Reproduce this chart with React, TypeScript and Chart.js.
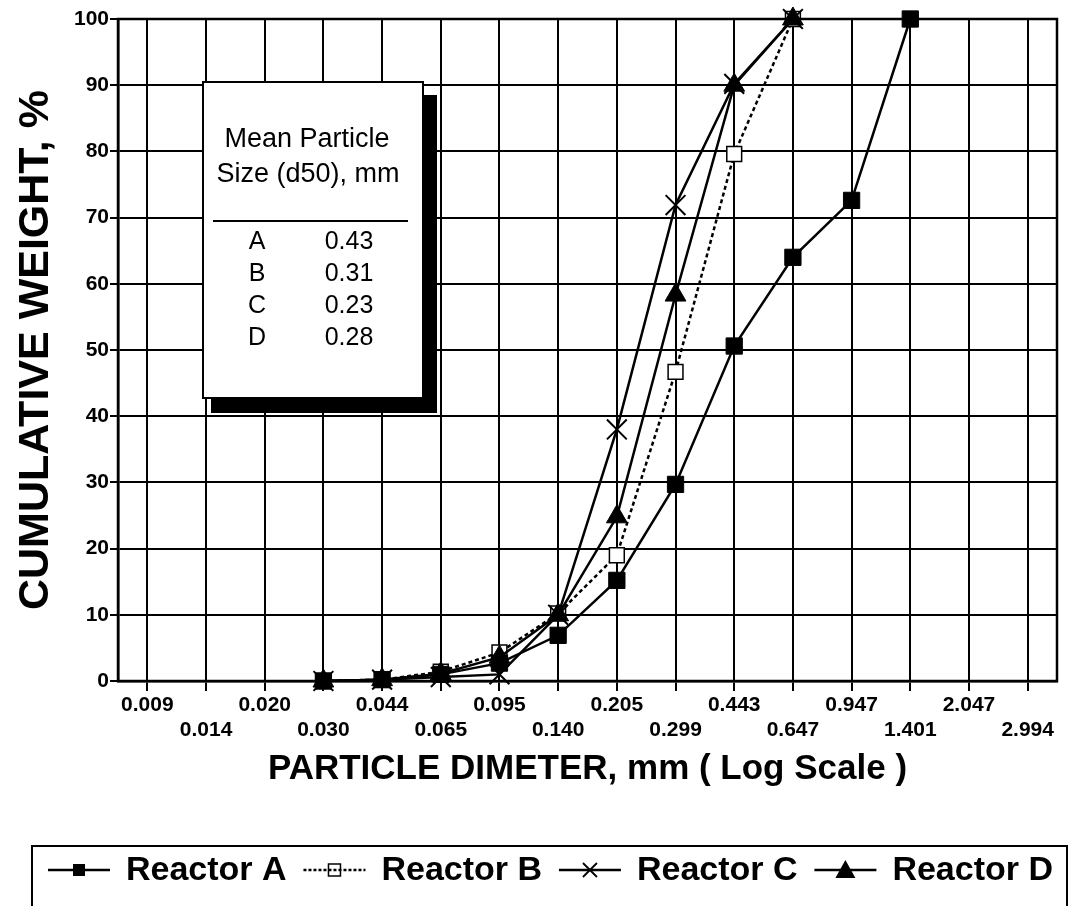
import React, { useEffect, useRef } from 'react';
import { Chart, registerables } from 'chart.js';

Chart.register(...registerables);

// ---- data ----
const sizeLabels = ['0.009', '0.014', '0.020', '0.030', '0.044', '0.065', '0.095', '0.140', '0.205', '0.299', '0.443', '0.647', '0.947', '1.401', '2.047', '2.994'];
const reactorA = [null, null, null, 0, 0.2, 1.0, 2.7, 6.9, 15.2, 29.7, 50.6, 64.0, 72.6, 100, null, null];
const reactorB = [null, null, null, 0, 0.2, 1.4, 4.3, 10.2, 19.0, 46.7, 79.6, 100, null, null, null, null];
const reactorC = [null, null, null, 0, 0.2, 0.6, 1.0, 10.0, 38.0, 71.9, 90.2, 100, null, null, null, null];
const reactorD = [null, null, null, 0, 0.2, 1.1, 3.6, 10.0, 24.8, 58.3, 90.0, 100, null, null, null, null];
const seriesNames = ['Reactor A', 'Reactor B', 'Reactor C', 'Reactor D'];
const d50Reactors = ['A', 'B', 'C', 'D'];
const d50Values = ['0.43', '0.31', '0.23', '0.28'];
const yTitle = 'CUMULATIVE WEIGHT, %';
const xTitle = 'PARTICLE DIMETER, mm ( Log Scale )';
const insetTitle = ['Mean Particle', 'Size (d50), mm'];

const FONT = "'Liberation Sans', Arial, Helvetica, sans-serif";

function drawMarker(ctx: CanvasRenderingContext2D, kind: number, x: number, y: number) {
  ctx.save();
  ctx.setLineDash([]);
  ctx.strokeStyle = '#000';
  ctx.fillStyle = '#000';
  if (kind === 0) {
    ctx.fillRect(x - 6, y - 6, 12, 12);
  } else if (kind === 1) {
    ctx.lineWidth = 1.5;
    ctx.strokeRect(x - 6, y - 6, 12, 12);
  } else if (kind === 2) {
    ctx.lineWidth = 1.8;
    ctx.beginPath();
    ctx.moveTo(x - 7, y - 7);
    ctx.lineTo(x + 7, y + 7);
    ctx.moveTo(x + 7, y - 7);
    ctx.lineTo(x - 7, y + 7);
    ctx.stroke();
  } else {
    ctx.beginPath();
    ctx.moveTo(x, y - 10);
    ctx.lineTo(x + 10, y + 8);
    ctx.lineTo(x - 10, y + 8);
    ctx.closePath();
    ctx.fill();
  }
  ctx.restore();
}

const decorPlugin = {
  id: 'decor',
  afterDatasetsDraw(chart: any) {
    const { ctx, chartArea: a } = chart;
    ctx.save();
    ctx.strokeStyle = '#000';
    ctx.lineWidth = 2.5;
    ctx.strokeRect(a.left, a.top, a.right - a.left, a.bottom - a.top);
    ctx.restore();
  },
  afterDraw(chart: any) {
    const { ctx } = chart;
    ctx.save();
    // inset box with shadow
    const bx = 203, by = 82, bw = 220, bh = 316;
    ctx.fillStyle = '#000';
    ctx.fillRect(bx + 8, by + 13, bw + 5, bh + 2);
    ctx.fillRect(bx + 8, by + bh, bw + 5, 15);
    ctx.fillRect(bx + bw, by + 13, 14, bh + 2);
    ctx.fillStyle = '#fff';
    ctx.fillRect(bx, by, bw, bh);
    ctx.strokeStyle = '#000';
    ctx.lineWidth = 2;
    ctx.strokeRect(bx, by, bw, bh);
    ctx.fillStyle = '#000';
    ctx.textAlign = 'center';
    ctx.textBaseline = 'middle';
    ctx.font = `27px ${FONT}`;
    ctx.fillText(insetTitle[0], 307, 140);
    ctx.fillText(insetTitle[1], 308, 175);
    ctx.lineWidth = 2;
    ctx.beginPath();
    ctx.moveTo(213, 221);
    ctx.lineTo(408, 221);
    ctx.stroke();
    ctx.font = `25px ${FONT}`;
    d50Reactors.forEach((r, i) => {
      const yy = 242 + i * 32;
      ctx.fillText(r, 257, yy);
      ctx.fillText(d50Values[i], 349, yy);
    });

    // legend box
    ctx.lineWidth = 2;
    ctx.beginPath();
    ctx.moveTo(32, 906);
    ctx.lineTo(32, 846);
    ctx.lineTo(1067, 846);
    ctx.lineTo(1067, 906);
    ctx.stroke();
    ctx.font = `bold 34px ${FONT}`;
    ctx.textAlign = 'left';
    const symW = 62, gap1 = 16;
    const widths = seriesNames.map((n) => ctx.measureText(n).width);
    const startX = 48, endX = 1053;
    const total = widths.reduce((s, w) => s + w + symW + gap1, 0);
    const gap2 = (endX - startX - total) / 3;
    let x = startX;
    const ly = 870;
    seriesNames.forEach((n, i) => {
      ctx.save();
      ctx.lineWidth = 2.5;
      if (i === 1) ctx.setLineDash([3, 2]);
      ctx.beginPath();
      ctx.moveTo(x, ly);
      ctx.lineTo(x + symW, ly);
      ctx.stroke();
      ctx.restore();
      drawMarker(ctx, i, x + symW / 2, ly);
      ctx.fillStyle = '#000';
      ctx.fillText(n, x + symW + gap1, ly + 1);
      x += symW + gap1 + widths[i] + gap2;
    });
    ctx.restore();
  },
};

export default function App() {
  const ref = useRef<HTMLCanvasElement>(null);
  useEffect(() => {
    document.body.style.margin = '0';
    const canvas = ref.current;
    if (!canvas) return;
    const common = { borderColor: '#000', borderWidth: 2.5, tension: 0, clip: false as any, pointBorderColor: '#000' };
    const chart = new Chart(canvas, {
      type: 'line',
      data: {
        labels: sizeLabels,
        datasets: [
          { ...common, order: 3, label: seriesNames[0], data: reactorA, pointStyle: 'rect', pointRadius: 11.5, pointBackgroundColor: '#000', pointBorderWidth: 1 },
          { ...common, order: 4, label: seriesNames[1], data: reactorB, borderDash: [4, 3], pointStyle: 'rect', pointRadius: 10.5, pointBackgroundColor: '#fff', pointBorderWidth: 1.5 },
          { ...common, order: 2, label: seriesNames[2], data: reactorC, pointStyle: 'crossRot', pointRadius: 14, pointBackgroundColor: '#000', pointBorderWidth: 2 },
          { ...common, order: 1, label: seriesNames[3], data: reactorD, pointStyle: 'triangle', pointRadius: 12, pointBackgroundColor: '#000', pointBorderWidth: 1 },
        ],
      },
      options: {
        responsive: false,
        animation: false,
        layout: { padding: { top: 19, right: 20, left: 0, bottom: 105 } },
        plugins: { legend: { display: false }, tooltip: { enabled: false } },
        scales: {
          x: {
            offset: true,
            grid: { offset: false, color: '#000', lineWidth: 2, tickLength: 10, tickColor: '#000', tickWidth: 2 },
            border: { color: '#000', width: 2.5 },
            ticks: {
              autoSkip: false,
              maxRotation: 0,
              minRotation: 0,
              color: '#000',
              padding: 2,
              font: { family: FONT, size: 21, weight: 'bold', lineHeight: 1.19 },
              callback: (_v: any, i: number) => (i % 2 === 0 ? [sizeLabels[i], ''] : ['', sizeLabels[i]]),
            },
            title: {
              display: true,
              text: xTitle,
              color: '#000',
              font: { family: FONT, size: 35, weight: 'bold', lineHeight: 1 },
              padding: { top: 0, bottom: 14 },
            },
            afterFit: (s: any) => { s.height = 120; },
          },
          y: {
            min: 0,
            max: 100,
            grid: { color: '#000', lineWidth: 2, tickLength: 8, tickColor: '#000', tickWidth: 2 },
            border: { color: '#000', width: 2.5 },
            ticks: {
              stepSize: 10,
              color: '#000',
              padding: 1,
              font: { family: FONT, size: 21, weight: 'bold' },
            },
            title: {
              display: true,
              text: yTitle,
              color: '#000',
              font: { family: FONT, size: 43, weight: 'bold', lineHeight: 1 },
              padding: { top: 15, bottom: 0 },
            },
            afterFit: (s: any) => { s.width = 118; },
          },
        },
      },
      plugins: [decorPlugin],
    });
    return () => chart.destroy();
  }, []);
  return (
    <div style={{ width: 1077, height: 906, background: '#fff' }}>
      <canvas ref={ref} width={1077} height={906} style={{ display: 'block' }} />
    </div>
  );
}
